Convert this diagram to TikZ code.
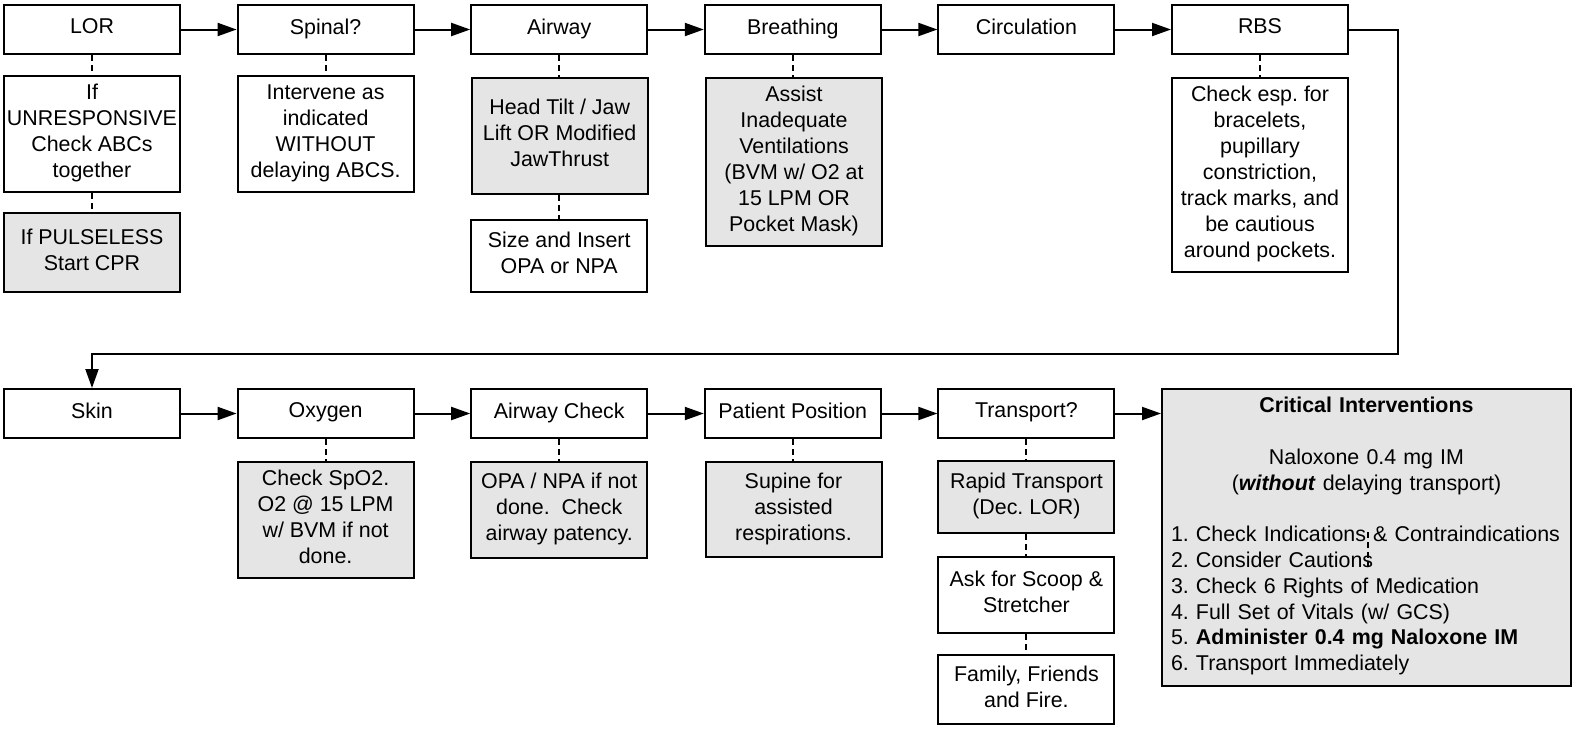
\documentclass[tikz,border=0pt]{standalone}
\usepackage{fontspec}
\setmainfont{Liberation Sans}
\usetikzlibrary{arrows.meta}
\begin{document}
\frenchspacing
\begin{tikzpicture}[x=1pt,y=-1pt,
  box/.style={draw=black,line width=2pt,fill=white,minimum width=176pt,inner xsep=0pt,inner ysep=2pt,align=center,font=\fontsize{21.4}{26}\selectfont,execute at end node={\rule[-6.5pt]{0pt}{1pt}}},
  gbox/.style={box,fill=gray!20},
  arr/.style={line width=2pt,-{Triangle[length=19pt,width=13pt]}},
  dsh/.style={line width=2pt,dash pattern=on 6pt off 4pt}]
\useasboundingbox (0,0) rectangle (1573,729);
% top row
\node[box,minimum height=49pt] (lor) at (92,29.5) {LOR};
\node[box,minimum height=49pt] (spinal) at (325.6,29.5) {Spinal?};
\node[box,minimum height=49pt] (airway) at (559.2,29.5) {Airway};
\node[box,minimum height=49pt] (breath) at (792.8,29.5) {Breathing};
\node[box,minimum height=49pt] (circ) at (1026.4,29.5) {Circulation};
\node[box,minimum height=49pt] (rbs) at (1260,29.5) {RBS};
% top subs
\node[box,minimum height=116pt] (lor1) at (92,134) {If\\UNRESPONSIVE\\Check ABCs\\together};
\node[gbox,minimum height=79pt] (lor2) at (92,252.5) {If PULSELESS\\Start CPR};
\node[box,minimum height=116pt] (spin1) at (325.6,134) {Intervene as\\indicated\\WITHOUT\\delaying ABCS.};
\node[gbox,minimum height=116pt] (air1) at (559.7,136) {Head Tilt / Jaw\\Lift OR Modified\\JawThrust};
\node[box,minimum height=72pt] (air2) at (559.2,256) {Size and Insert\\OPA or NPA};
\node[gbox,minimum height=168pt] (br1) at (794,162) {Assist\\Inadequate\\Ventilations\\(BVM w/ O2 at\\15 LPM OR\\Pocket Mask)};
\node[box,minimum height=194pt] (rbs1) at (1260,175) {Check esp. for\\bracelets,\\pupillary\\constriction,\\track marks, and\\be cautious\\around pockets.};
% bottom row
\node[box,minimum height=49pt] (skin) at (92,413.5) {Skin};
\node[box,minimum height=49pt] (oxy) at (325.6,413.5) {Oxygen};
\node[box,minimum height=49pt] (airc) at (559.2,413.5) {Airway Check};
\node[box,minimum height=49pt] (pos) at (792.8,413.5) {Patient Position};
\node[box,minimum height=49pt] (trans) at (1026.4,413.5) {Transport?};
% bottom subs
\node[gbox,minimum height=116pt] (oxy1) at (325.6,520) {Check SpO2.\\O2 @ 15 LPM\\w/ BVM if not\\done.};
\node[gbox,minimum height=96pt] (airc1) at (559.2,510) {OPA / NPA if not\\done.\ \ Check\\airway patency.};
\node[gbox,minimum height=95pt] (pos1) at (793.5,509.5) {Supine for\\assisted\\respirations.};
\node[gbox,minimum height=72pt] (tr1) at (1026.4,497) {Rapid Transport\\(Dec. LOR)};
\node[box,minimum height=76pt] (tr2) at (1026.4,595) {Ask for Scoop \&\\Stretcher};
\node[box,minimum height=69pt] (tr3) at (1026.4,689.5) {Family, Friends\\and Fire.};
% critical interventions
\node[gbox,minimum width=409pt,minimum height=297pt,execute at end node={}] (crit) at (1366.5,537.5) {};
\node[anchor=north,inner sep=0pt,text width=391pt,align=left,font=\fontsize{21.4}{25.8}\selectfont] (crittext) at (1366.5,397)
{\parindent0pt{\centering\textbf{Critical Interventions}\par\vspace{25.8pt}Naloxone 0.4 mg IM\par(\textbf{\textit{without}} delaying transport)\par}\vspace{25.8pt}1. Check Indications \& Contraindications\par 2. Consider Cautions\par 3. Check 6 Rights of Medication\par 4. Full Set of Vitals (w/ GCS)\par 5. \textbf{Administer 0.4 mg Naloxone IM}\par 6. Transport Immediately};
% arrows
\draw[arr] (lor) -- (spinal);
\draw[arr] (spinal) -- (airway);
\draw[arr] (airway) -- (breath);
\draw[arr] (breath) -- (circ);
\draw[arr] (circ) -- (rbs);
\coordinate (turn) at (1398,354);
\draw[arr] (rbs.east) -| (turn) -| (skin.north);
\draw[arr] (skin) -- (oxy);
\draw[arr] (oxy) -- (airc);
\draw[arr] (airc) -- (pos);
\draw[arr] (pos) -- (trans);
\draw[arr] (trans.east) -- (trans.east -| crit.west);
% dashed links
\draw[dsh] (lor.south) -- (lor1.north);
\draw[dsh] (lor1.south) -- (lor2.north);
\draw[dsh] (spinal.south) -- (spin1.north);
\draw[dsh] (airway.south) -- (airway.south |- air1.north);
\draw[dsh] (airway.south |- air1.south) -- (air2.north);
\draw[dsh] (breath.south) -- (breath.south |- br1.north);
\draw[dsh] (rbs.south) -- (rbs1.north);
\draw[dsh] (oxy.south) -- (oxy1.north);
\draw[dsh] (airc.south) -- (airc1.north);
\draw[dsh] (pos.south) -- (pos.south |- pos1.north);
\draw[dsh] (trans.south) -- (tr1.north);
\draw[dsh] (tr1.south) -- (tr2.north);
\draw[dsh] (tr2.south) -- (tr3.north);
\coordinate (s1) at (1367.5,532);
\coordinate (s2) at (1367.5,567);
\draw[dsh] (s1) -- (s2);
\end{tikzpicture}
\end{document}
